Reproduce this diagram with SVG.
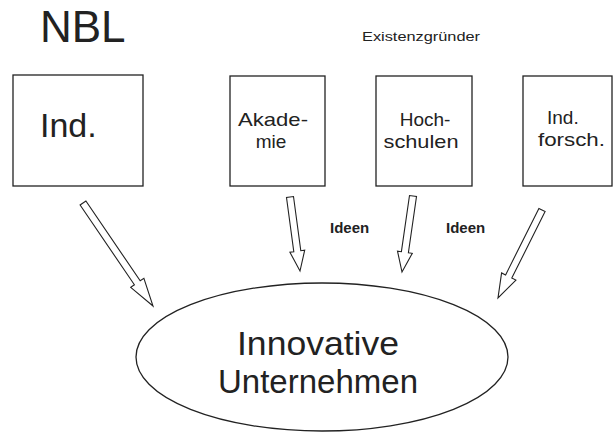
<svg xmlns="http://www.w3.org/2000/svg" width="615" height="435" viewBox="0 0 615 435">
<style>
.box{fill:#fff;stroke:#222;stroke-width:1.3}
.arr{fill:#fff;stroke:#222;stroke-width:1.1;stroke-linejoin:miter}
text{font-family:"Liberation Sans",Arial,sans-serif;fill:#222}
.lbl{font-size:19px}
.idee{font-size:15px;font-weight:bold}
</style>
<rect width="615" height="435" fill="#fff"/>
<g id="title"><text x="40" y="42" font-size="44" fill="#333">NBL</text></g>
<g id="existenz"><text x="362" y="41" font-size="13" textLength="118" lengthAdjust="spacingAndGlyphs">Existenzgründer</text></g>
<g id="ind"><rect class="box" x="13" y="75" width="130" height="111"/><text x="40" y="137" font-size="34">Ind.</text></g>
<g id="akademie"><rect class="box" x="230" y="76" width="95" height="110"/><text class="lbl" x="273" y="126" text-anchor="middle" textLength="70" lengthAdjust="spacingAndGlyphs">Akade-</text><text class="lbl" x="271" y="148" text-anchor="middle">mie</text></g>
<g id="hochschulen"><rect class="box" x="376" y="76" width="96" height="110"/><text class="lbl" x="425" y="126" text-anchor="middle">Hoch-</text><text class="lbl" x="421" y="148" text-anchor="middle" textLength="75" lengthAdjust="spacingAndGlyphs">schulen</text></g>
<g id="indforsch"><rect class="box" x="523" y="76" width="89" height="110"/><text class="lbl" x="547" y="124">Ind.</text><text class="lbl" x="538" y="146" textLength="67" lengthAdjust="spacingAndGlyphs">forsch.</text></g>
<g id="unternehmen"><ellipse cx="322" cy="357" rx="186" ry="74" fill="#fff" stroke="#222" stroke-width="1.3"/><text x="318" y="355" font-size="33" text-anchor="middle" textLength="162" lengthAdjust="spacingAndGlyphs">Innovative</text><text x="318" y="393" font-size="33" text-anchor="middle" textLength="200" lengthAdjust="spacingAndGlyphs">Unternehmen</text></g>
<g id="connectors">
<polygon class="arr" points="80.1,205 134.4,284.8 130.7,287.3 153,306 143.9,278.3 140.2,280.8 85.9,201"/>
<polygon class="arr" points="286.5,197.5 293.8,251.7 289.9,252.2 300,271 304.7,250.2 300.8,250.7 293.5,196.5"/>
<polygon class="arr" points="409.5,195.5 401.4,251.7 397.5,251.1 402,272 412.3,253.3 408.4,252.7 416.5,196.5"/>
<polygon class="arr" points="538.9,208.4 505.6,274.9 501.6,272.9 498,298 515.9,280.1 511.8,278.1 545.1,211.6"/>
<text class="idee" x="330" y="233">Ideen</text>
<text class="idee" x="446" y="233">Ideen</text>
</g>
</svg>
